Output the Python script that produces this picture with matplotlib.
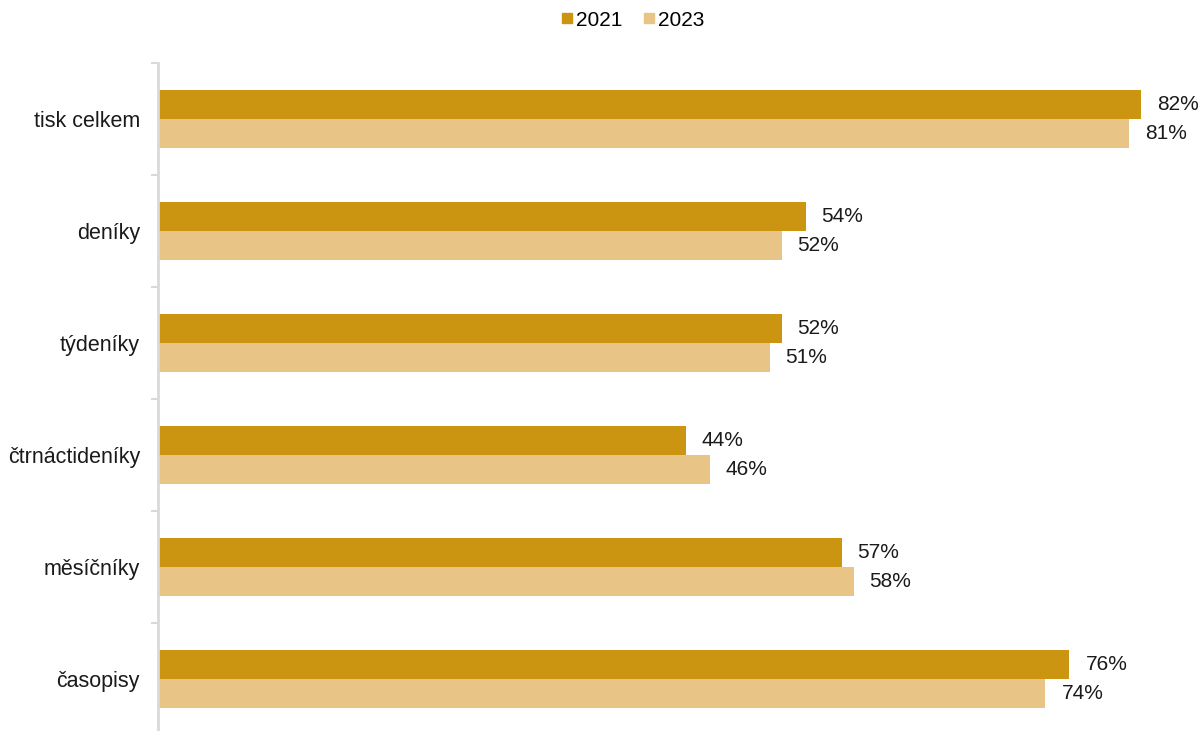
import numpy as np
import matplotlib.pyplot as plt
from matplotlib.lines import Line2D

plt.rcParams['font.family'] = ['Liberation Sans', 'DejaVu Sans']

categories = ['tisk celkem', 'deníky', 'týdeníky', 'čtrnáctideníky', 'měsíčníky', 'časopisy']
values_2021 = [82, 54, 52, 44, 57, 76]
values_2023 = [81, 52, 51, 46, 58, 74]
series_names = ['2021', '2023']
colors = ['#CC9511', '#E8C587']

fig = plt.figure(figsize=(12.04, 7.31), dpi=100)
# axes: left edge at x=158px, top at y=63px, bottom a bit below the figure
ax = fig.add_axes([158/1204, (731-735)/731, 1 - 158/1204, (735-63)/731])

n = len(categories)
y = np.arange(n)
h = 0.26
bars1 = ax.barh(y - h/2, values_2021, height=h, color=colors[0], label=series_names[0])
bars2 = ax.barh(y + h/2, values_2023, height=h, color=colors[1], label=series_names[1])

for bars, vals in ((bars1, values_2021), (bars2, values_2023)):
    for b, v in zip(bars, vals):
        ax.annotate(f'{v}%', (b.get_width(), b.get_y() + b.get_height()/2),
                    xytext=(11.5, 0), textcoords='offset points',
                    va='center', ha='left', fontsize=15, color='#1a1a1a')

ax.set_xlim(0, (1204 - 160) / 11.97)
ax.set_ylim(n - 0.5, -0.5)
ax.set_xticks([])

# boundary ticks (major) and centered labels (minor)
ax.set_yticks(np.arange(n + 1) - 0.5)
ax.set_yticklabels([])
ax.tick_params(axis='y', which='major', length=5, color='#d9d9d9', width=1.5)
ax.set_yticks(y, minor=True)
ax.set_yticklabels(categories, minor=True, fontsize=15.5, color='#1a1a1a')
ax.tick_params(axis='y', which='minor', length=0, pad=13)

for s in ['top', 'right', 'bottom']:
    ax.spines[s].set_visible(False)
ax.spines['left'].set_color('#d9d9d9')
ax.spines['left'].set_linewidth(2)

handles = [Line2D([], [], marker='s', linestyle='none', markersize=7.5,
                  markerfacecolor=c, markeredgecolor=c) for c in colors]
fig.legend(handles, series_names, loc='center', bbox_to_anchor=(0.524, 1 - 20/731),
           ncol=2, frameon=False, fontsize=15, handletextpad=0.0,
           columnspacing=0.8, handlelength=0.9)

fig.savefig('out.png', dpi=100)
